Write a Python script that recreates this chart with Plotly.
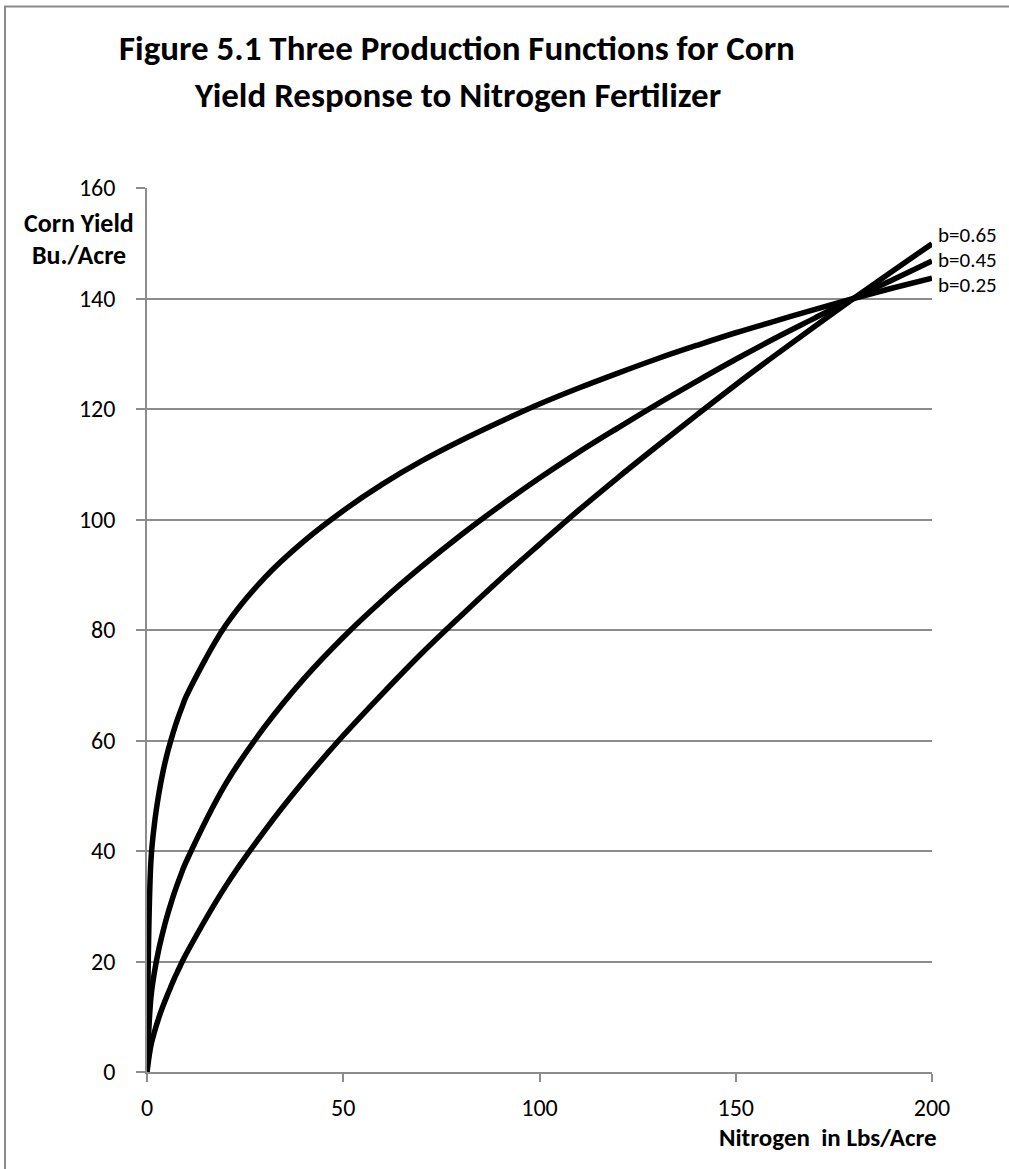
import plotly.graph_objects as go

# ---- data ----
nitrogen = [0, 1, 2, 3, 4, 5, 6, 7, 8, 9, 10, 20, 30, 40, 50, 60, 70, 80, 90, 100,
            110, 120, 130, 140, 150, 160, 170, 180, 190, 200]
yield_b025 = [0, 38.2, 45.5, 50.3, 54.1, 57.2, 59.8, 62.2, 64.3, 66.2, 68.0, 80.8, 89.5, 96.1,
              101.6, 106.4, 110.6, 114.3, 117.7, 120.9, 123.8, 126.5, 129.1, 131.5, 133.8,
              135.9, 138.0, 140.0, 141.9, 143.7]
yield_b045 = [0, 13.5, 18.5, 22.2, 25.2, 27.9, 30.3, 32.5, 34.5, 36.4, 38.1, 52.1, 62.5, 71.2,
              78.7, 85.4, 91.5, 97.2, 102.5, 107.5, 112.2, 116.6, 120.9, 125.0, 129.0,
              132.8, 136.4, 140.0, 143.4, 146.8]
yield_b065 = [0, 4.8, 7.5, 9.8, 11.8, 13.6, 15.3, 17.0, 18.5, 20.0, 21.4, 33.6, 43.7, 52.7,
              60.9, 68.5, 75.8, 82.6, 89.2, 95.5, 101.7, 107.6, 113.3, 118.9, 124.4,
              129.7, 134.9, 140.0, 145.0, 149.9]
series_labels = ["b=0.65", "b=0.45", "b=0.25"]
x_ticks = [0, 50, 100, 150, 200]
y_ticks = [0, 20, 40, 60, 80, 100, 120, 140, 160]

title_line1 = "Figure 5.1 Three Production Functions for Corn"
title_line2 = "Yield Response to Nitrogen Fertilizer"
y_title_1 = "Corn Yield"
y_title_2 = "Bu./Acre"
x_title = "Nitrogen  in Lbs/Acre"

# ---- layout geometry (target pixels in the screenshot) ----
W, H = 1009, 1169
L, R, T, B = 147, 932, 188, 1072
FONT = "Calibri, Carlito, Lato, sans-serif"


def px(x):
    return (x - L) / (R - L)


def py(y):
    return (B - y) / (B - T)


fig = go.Figure()
for ys in (yield_b025, yield_b045, yield_b065):
    fig.add_trace(go.Scatter(x=nitrogen, y=ys, mode="lines",
                             line=dict(color="black", width=5.5, shape="spline", smoothing=1.0),
                             showlegend=False, hoverinfo="skip"))

# end labels
label_px_y = [235, 260, 285]
for lab, yy in zip(series_labels, label_px_y):
    fig.add_annotation(x=px(936), y=py(yy), xref="paper", yref="paper",
                       text=lab, showarrow=False, xanchor="left", yanchor="middle",
                       font=dict(family=FONT, size=21, color="black"))

# titles
fig.add_annotation(x=px(457), y=py(48), xref="paper", yref="paper", text="<b>%s</b>" % title_line1,
                   showarrow=False, xanchor="center", yanchor="middle",
                   font=dict(family=FONT, size=35, color="black"))
fig.add_annotation(x=px(457), y=py(95), xref="paper", yref="paper", text="<b>%s</b>" % title_line2,
                   showarrow=False, xanchor="center", yanchor="middle",
                   font=dict(family=FONT, size=35, color="black"))
fig.add_annotation(x=px(79), y=py(223), xref="paper", yref="paper", text="<b>%s</b>" % y_title_1,
                   showarrow=False, xanchor="center", yanchor="middle",
                   font=dict(family=FONT, size=26, color="black"))
fig.add_annotation(x=px(79), y=py(255), xref="paper", yref="paper", text="<b>%s</b>" % y_title_2,
                   showarrow=False, xanchor="center", yanchor="middle",
                   font=dict(family=FONT, size=26, color="black"))
fig.add_annotation(x=px(939), y=py(1137), xref="paper", yref="paper", text="<b>%s</b>" % x_title,
                   showarrow=False, xanchor="right", yanchor="middle",
                   font=dict(family=FONT, size=25, color="black"))

# outer border (left and top visible)
fig.add_shape(type="path", xref="paper", yref="paper",
              path="M %f %f L %f %f L %f %f" % (px(5), py(1200), px(5), py(6.5), px(1100), py(6.5)),
              line=dict(color="#8a8a8a", width=2))

GRID = "#8c8c8c"
fig.update_xaxes(range=[0, 200], tickvals=x_ticks, ticktext=[str(v) for v in x_ticks],
                 showgrid=False, zeroline=False, showline=True, linecolor=GRID, linewidth=1.5,
                 ticks="outside", ticklen=8, tickwidth=1.5, tickcolor=GRID,
                 ticklabelstandoff=5,
                 tickfont=dict(family=FONT, size=24, color="black"), fixedrange=True)
fig.update_yaxes(range=[0, 160], tickvals=y_ticks, ticktext=[str(v) for v in y_ticks],
                 showgrid=True, gridcolor=GRID, gridwidth=1.5, zeroline=False,
                 showline=True, linecolor=GRID, linewidth=1.5,
                 ticks="outside", ticklen=9, tickwidth=1.5, tickcolor=GRID,
                 ticklabelstandoff=16,
                 tickfont=dict(family=FONT, size=24, color="black"), fixedrange=True)

fig.update_layout(width=W, height=H, margin=dict(l=L, r=W - R, t=T, b=H - B),
                  paper_bgcolor="white", plot_bgcolor="white", showlegend=False)

fig.write_html("out.html", config={"displayModeBar": False},
               post_script="document.body.style.margin='0';document.body.style.overflow='hidden';")
